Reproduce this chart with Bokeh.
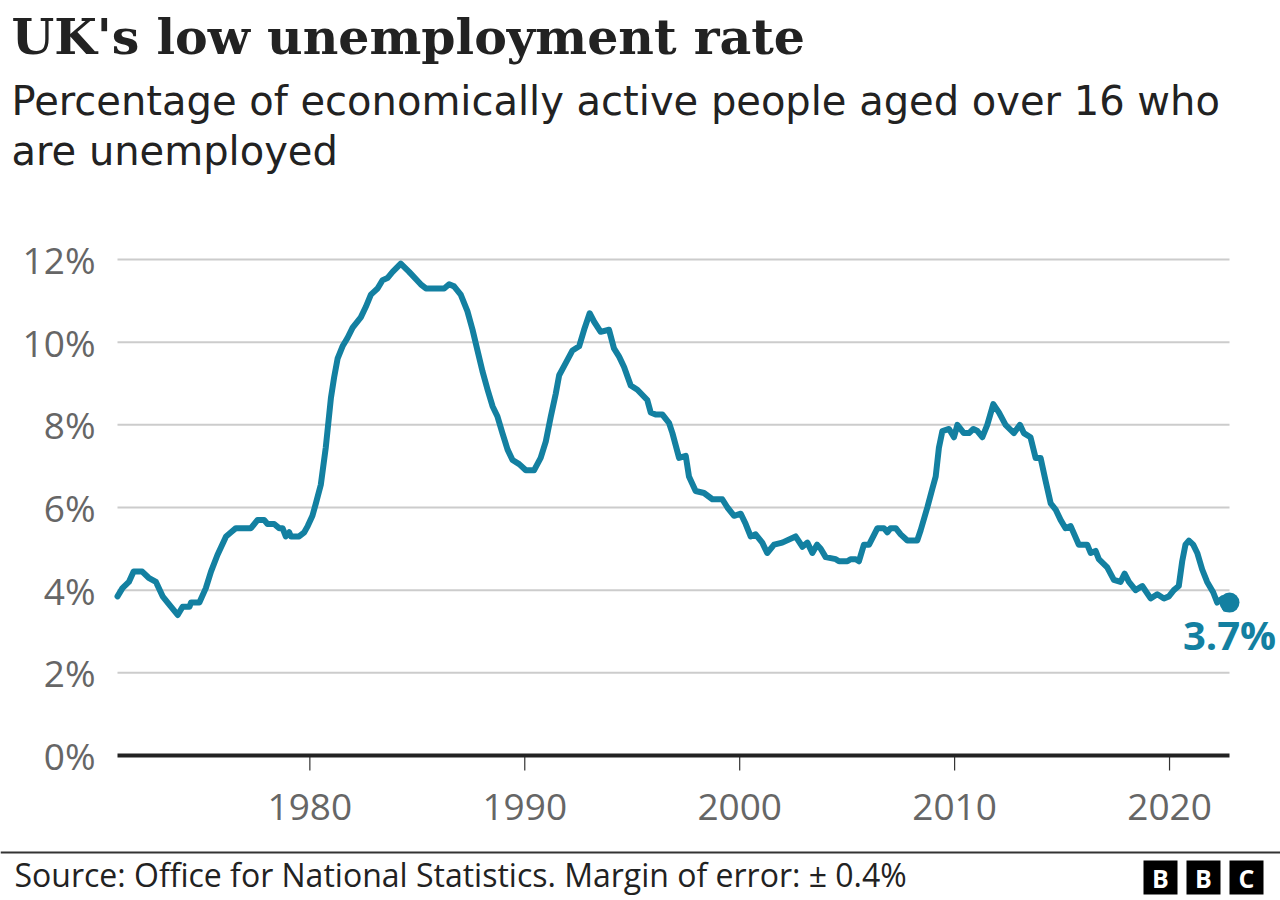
from math import pi
from bokeh.plotting import figure
from bokeh.models import Range1d
from bokeh.embed import file_html
from bokeh.resources import INLINE
from bokeh.core.properties import value

# ---------------- data ----------------
years = [1971.05, 1971.28, 1971.58, 1971.8, 1972.2, 1972.5, 1972.84, 1973.15, 1973.46, 1973.85,
         1974.08, 1974.4, 1974.47, 1974.86, 1975.16, 1975.4, 1975.7, 1976.1, 1976.33, 1976.56,
         1977.26, 1977.57, 1977.87, 1978.03, 1978.34, 1978.57, 1978.73, 1978.88, 1979.04, 1979.12,
         1979.5, 1979.74, 1979.9, 1980.12, 1980.28, 1980.51, 1980.74, 1980.98, 1981.13, 1981.29,
         1981.52, 1981.75, 1981.99, 1982.37, 1982.6, 1982.84, 1983.15, 1983.38, 1983.61, 1983.85,
         1984.23, 1984.62, 1985.16, 1985.4, 1986.25, 1986.48, 1986.71, 1987.02, 1987.33, 1987.57,
         1987.8, 1988.03, 1988.27, 1988.5, 1988.73, 1988.96, 1989.2, 1989.43, 1989.74, 1990.05,
         1990.43, 1990.74, 1990.98, 1991.21, 1991.44, 1991.6, 1991.91, 1992.22, 1992.53, 1992.76,
         1993.02, 1993.22, 1993.53, 1993.92, 1994.15, 1994.39, 1994.62, 1994.93, 1995.24, 1995.7,
         1995.86, 1996.09, 1996.4, 1996.71, 1996.87, 1997.18, 1997.49, 1997.64, 1997.95, 1998.34,
         1998.73, 1999.19, 1999.43, 1999.74, 2000.05, 2000.28, 2000.51, 2000.74, 2001.05, 2001.28,
         2001.6, 2001.98, 2002.6, 2002.92, 2003.15, 2003.38, 2003.6, 2003.77, 2004.0, 2004.47,
         2004.62, 2005.01, 2005.16, 2005.4, 2005.55, 2005.78, 2006.02, 2006.41, 2006.71, 2006.87,
         2007.02, 2007.26, 2007.49, 2007.8, 2008.26, 2008.42, 2008.73, 2008.96, 2009.12, 2009.27,
         2009.43, 2009.74, 2009.97, 2010.13, 2010.43, 2010.67, 2010.87, 2011.06, 2011.29, 2011.52,
         2011.8, 2012.06, 2012.37, 2012.76, 2013.04, 2013.22, 2013.53, 2013.77, 2014.0, 2014.23,
         2014.47, 2014.7, 2014.93, 2015.16, 2015.4, 2015.78, 2016.17, 2016.33, 2016.56, 2016.71,
         2017.1, 2017.41, 2017.72, 2017.91, 2018.11, 2018.42, 2018.73, 2019.12, 2019.43, 2019.74,
         2019.97, 2020.2, 2020.43, 2020.59, 2020.74, 2020.9, 2021.1, 2021.29, 2021.52, 2021.75,
         2022.03, 2022.22, 2022.45, 2022.6, 2022.79]
rate = [3.85, 4.05, 4.2, 4.45, 4.45, 4.3, 4.2, 3.85, 3.65, 3.4,
        3.6, 3.6, 3.7, 3.7, 4.05, 4.45, 4.85, 5.3, 5.4, 5.5,
        5.5, 5.7, 5.7, 5.6, 5.6, 5.5, 5.5, 5.3, 5.4, 5.3,
        5.3, 5.4, 5.55, 5.8, 6.1, 6.55, 7.45, 8.65, 9.15, 9.6,
        9.9, 10.1, 10.35, 10.6, 10.85, 11.15, 11.3, 11.5, 11.55, 11.7,
        11.9, 11.7, 11.4, 11.3, 11.3, 11.4, 11.35, 11.15, 10.75, 10.3,
        9.8, 9.3, 8.85, 8.45, 8.2, 7.8, 7.4, 7.15, 7.05, 6.9,
        6.9, 7.2, 7.6, 8.2, 8.75, 9.2, 9.5, 9.8, 9.9, 10.3,
        10.7, 10.5, 10.25, 10.3, 9.85, 9.65, 9.4, 8.95, 8.85, 8.6,
        8.3, 8.25, 8.25, 8.05, 7.8, 7.2, 7.25, 6.75, 6.4, 6.35,
        6.2, 6.2, 6.0, 5.8, 5.85, 5.6, 5.3, 5.35, 5.15, 4.9,
        5.1, 5.15, 5.3, 5.05, 5.15, 4.9, 5.1, 5.0, 4.8, 4.75,
        4.7, 4.7, 4.75, 4.75, 4.7, 5.1, 5.1, 5.5, 5.5, 5.4,
        5.5, 5.5, 5.35, 5.2, 5.2, 5.45, 6.0, 6.45, 6.75, 7.45,
        7.85, 7.9, 7.7, 8.0, 7.8, 7.8, 7.9, 7.85, 7.7, 8.0,
        8.5, 8.3, 8.0, 7.8, 8.0, 7.8, 7.7, 7.2, 7.2, 6.65,
        6.1, 5.95, 5.7, 5.5, 5.55, 5.1, 5.1, 4.9, 4.95, 4.75,
        4.55, 4.25, 4.2, 4.4, 4.2, 4.0, 4.1, 3.8, 3.9, 3.8,
        3.85, 4.0, 4.1, 4.7, 5.1, 5.2, 5.1, 4.9, 4.5, 4.2,
        3.95, 3.7, 3.8, 3.55, 3.7]

y_ticks = [0, 2, 4, 6, 8, 10, 12]
y_tick_labels = ["0%", "2%", "4%", "6%", "8%", "10%", "12%"]
x_ticks = [1980, 1990, 2000, 2010, 2020]
x_tick_labels = ["1980", "1990", "2000", "2010", "2020"]
latest_label = "3.7%"

title = "UK's low unemployment rate"
subtitle_lines = ["Percentage of economically active people aged over 16 who",
                  "are unemployed"]
source = "Source: Office for National Statistics. Margin of error: \u00b1 0.4%"
logo_letters = ["B", "B", "C"]

# ---------------- layout ----------------
W, H = 1280, 900
PLOT_LEFT, PLOT_RIGHT = 117, 1229      # pixel extent of the data area
Y0_PX, YTOP_PX = 755, 259              # pixel rows of 0% and 12%
x_start, x_end = years[0], years[-1]
xscale = (PLOT_RIGHT - PLOT_LEFT) / (x_end - x_start)
yscale = (Y0_PX - YTOP_PX) / y_ticks[-1]

x_range = Range1d(x_start - PLOT_LEFT / xscale, x_end + (W - PLOT_RIGHT) / xscale)
y_range = Range1d((Y0_PX - H) / yscale, Y0_PX / yscale)


def X(px):
    return x_range.start + px / xscale


def Y(py):
    return (Y0_PX - py) / yscale


TEAL = "#1380A1"
SANS = value("Open Sans")
GREY = "#666666"

p = figure(width=W, height=H, x_range=x_range, y_range=y_range,
           output_backend="svg", toolbar_location=None,
           x_axis_location=None, y_axis_location=None,
           min_border=0, min_border_left=0, min_border_right=0,
           min_border_top=0, min_border_bottom=0)
p.outline_line_color = None
p.xgrid.visible = False
p.ygrid.visible = False
p.background_fill_color = "white"
p.border_fill_color = "white"

# gridlines
g = y_ticks[1:]
p.segment(x0=[x_start] * len(g), y0=g, x1=[x_end] * len(g), y1=g,
          line_color="#cccccc", line_width=2)

# x tick marks
p.ray(x=x_ticks, y=[0] * len(x_ticks), length=15, length_units="screen",
      angle=-pi / 2, line_color="#333333", line_width=1.2)

# baseline
p.segment(x0=[x_start], y0=[0], x1=[x_end], y1=[0], line_color="#222222", line_width=4)

# data line
p.line(years, rate, line_color=TEAL, line_width=6, line_join="round", line_cap="round")
p.scatter([years[-1]], [rate[-1]], size=20, fill_color=TEAL, line_color=None)
p.text(x=[years[-1]], y=[rate[-1]], text=[latest_label], text_color=TEAL,
       text_font=SANS, text_font_style="bold", text_font_size="40px",
       text_align="center", text_baseline="alphabetic", y_offset=32)

# y tick labels
p.text(x=[X(95)] * len(y_ticks), y=y_ticks, text=y_tick_labels, text_color=GREY,
       text_font=SANS, text_font_size="37px", text_align="right",
       text_baseline="alphabetic", y_offset=0)

# x tick labels
p.text(x=x_ticks, y=[0] * len(x_ticks), text=x_tick_labels, text_color=GREY,
       text_font=SANS, text_font_size="37px", text_align="center",
       text_baseline="alphabetic", y_offset=51)

# title / subtitle
p.text(x=[X(11)], y=[Y(36)], text=[title], text_color="#222222",
       text_font=value("DejaVu Serif"), text_font_style="bold", text_font_size="49px",
       text_align="left", text_baseline="alphabetic")
p.text(x=[X(11)] * 2, y=[Y(100), Y(150)], text=subtitle_lines, text_color="#222222",
       text_font=value("DejaVu Sans"), text_font_size="40px", text_align="left",
       text_baseline="alphabetic")

# footer
p.segment(x0=[X(0)], y0=[Y(852)], x1=[X(W)], y1=[Y(852)], line_color="#333333", line_width=2)
p.text(x=[X(14)], y=[Y(874)], text=[source], text_color="#222222",
       text_font=SANS, text_font_size="32px", text_align="left", text_baseline="alphabetic")

logo_x = [X(1160), X(1203), X(1246)]
p.rect(x=logo_x, y=[Y(877)] * 3, width=34, height=34, width_units="screen",
       height_units="screen", fill_color="black", line_color=None)
p.text(x=logo_x, y=[Y(877)] * 3, text=logo_letters, text_color="white",
       text_font=SANS, text_font_style="bold", text_font_size="25px",
       text_align="center", text_baseline="middle")

open("out.html", "w").write(file_html(p, INLINE))
